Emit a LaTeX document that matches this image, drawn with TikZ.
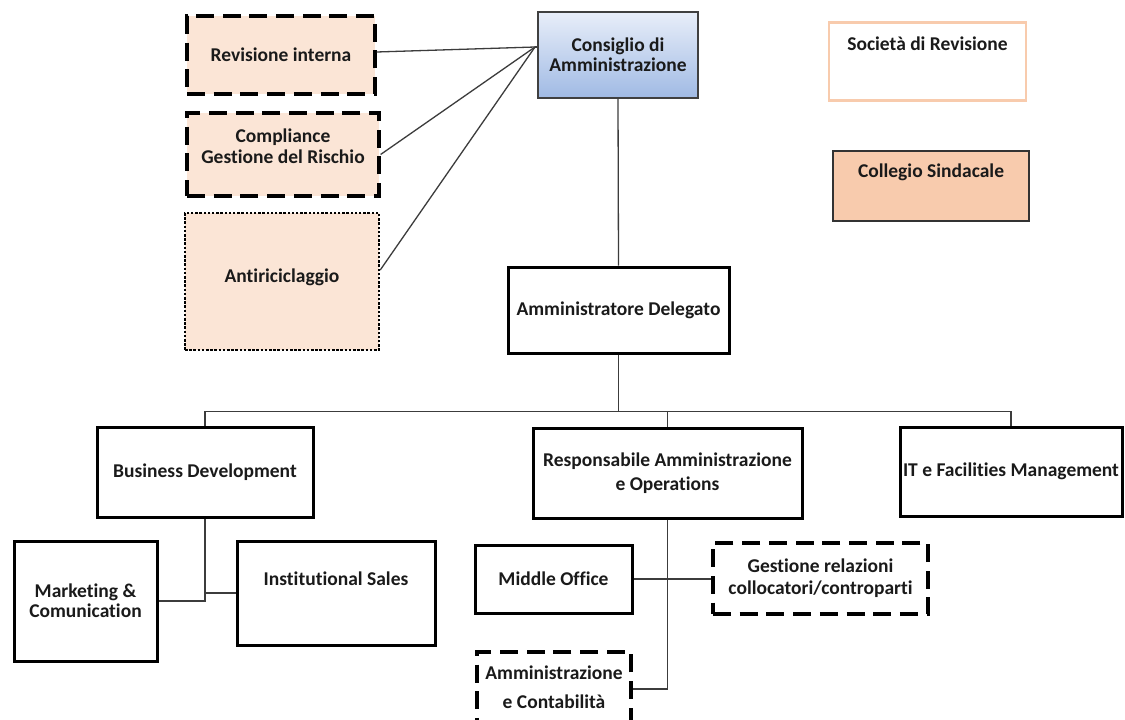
\documentclass[tikz,border=0pt]{standalone}
\usepackage{fontspec}
\setmainfont{Carlito}[Ligatures=NoCommon]
\usetikzlibrary{calc}
\definecolor{peach}{HTML}{FBE5D6}
\definecolor{peachdk}{HTML}{F8CBAD}
\definecolor{cdatop}{RGB}{232,238,249}
\definecolor{cdabot}{RGB}{160,186,228}
\definecolor{conncol}{HTML}{3C3C3C}
\definecolor{txtcol}{HTML}{1A1A1A}
\tikzset{
  txt/.style={font=\bfseries\fontsize{19.5}{21}\selectfont, align=center, text=txtcol, inner sep=0pt},
  solidbox/.style={draw=black, line width=3pt, inner sep=0pt, txt},
  dashbox/.style={draw=black, line width=3.2pt, dash pattern=on 18pt off 8.7pt, fill=peach, inner sep=0pt, txt},
  dotbox/.style={draw=black, line width=2.5pt, dash pattern=on 2.5pt off 1.7pt, fill=peach, inner sep=0pt, txt},
  conn/.style={draw=conncol, line width=1.3pt},
}
\begin{document}
\begin{tikzpicture}[x=1pt,y=-1pt]
\useasboundingbox (0,0) rectangle (1125,720);
\clip (0,0) rectangle (1125,720);
\fill[white] (0,0) rectangle (1125,720);

% top left control functions
\node[dashbox, minimum width=188, minimum height=78] (rev) at (281,55) {Revisione interna};
\node[dashbox, minimum width=192, minimum height=83] (comp) at (283,154.5) {};
\node[txt] (comp-t) at (283,146) {Compliance\\Gestione del Rischio};
\node[dotbox, minimum width=194, minimum height=137] (antir) at (282,281.5) {};
\node[txt] (antir-t) at (282,277) {Antiriciclaggio};

% board
\node[draw=black!75, line width=1.4pt, top color=cdatop, bottom color=cdabot, txt,
      minimum width=160, minimum height=86] (cons) at (618,55) {Consiglio di\\[-1pt]Amministrazione};
\coordinate (cvg) at (535,47);

% auditors
\node[draw=peachdk, line width=2.6pt, fill=white, minimum width=197, minimum height=78] (soc) at (927.5,61.5) {};
\node[txt] (soc-t) at (927.5,44) {Società di Revisione};
\node[draw=black!80, line width=1.4pt, fill=peachdk, minimum width=196, minimum height=70] (col) at (931,186) {};
\node[txt] (col-t) at (931,172) {Collegio Sindacale};

% CEO
\node[solidbox, minimum width=221, minimum height=86] (ad) at (618.5,310) {Amministratore Delegato};

% second level
\node[solidbox, minimum width=216, minimum height=90] (bd) at (205,472) {Business Development};
\node[solidbox, minimum width=269, minimum height=90] (resp) at (667.5,473) {Responsabile Amministrazione\\[3pt]e Operations};
\node[solidbox, minimum width=222, minimum height=89] (it) at (1011,471.5) {IT e Facilities Management};

% third level
\node[solidbox, minimum width=143, minimum height=120] (mkt) at (85.5,601) {Marketing \&\\[-1pt]Comunication};
\node[solidbox, minimum width=198, minimum height=104] (ist) at (336,593) {};
\node[txt] (ist-t) at (336,579) {Institutional Sales};
\node[solidbox, minimum width=157, minimum height=68] (mo) at (553.5,579) {Middle Office};
\node[dashbox, fill=white, minimum width=215, minimum height=71] (gest) at (820.5,578.5) {Gestione relazioni\\[1pt]collocatori/controparti};
\node[dashbox, fill=white, minimum width=154, minimum height=80] (amm) at (554,692) {};
\node[txt] (amm-t) at (554,687) {Amministrazione\\[8pt]e Contabilità};

% connectors
\draw[conn] ([yshift=3pt]rev.east) -- (cvg);
\draw[conn] (comp.east) -- (cvg);
\draw[conn] ([yshift=11.5pt]antir.east) -- (cvg);
\draw[conn] (cvg) -- ([yshift=8pt]cons.west);
\draw[conn] (cons.south) -- (ad.north);
\draw[conn] (bd.north) -- ++(0,-14) -| (it.north);
\draw[conn] (ad.south) |- ($(resp.north)+(0,-15)$) -- (resp.north);
\draw[conn] (bd.south) |- (mkt.east);
\draw[conn] (bd.south |- ist.west) -- (ist.west);
\draw[conn] (mo.east) -- (mo.east -| gest.west);
\draw[conn] (resp.south) |- ([yshift=3pt]amm.east);
\end{tikzpicture}
\end{document}
